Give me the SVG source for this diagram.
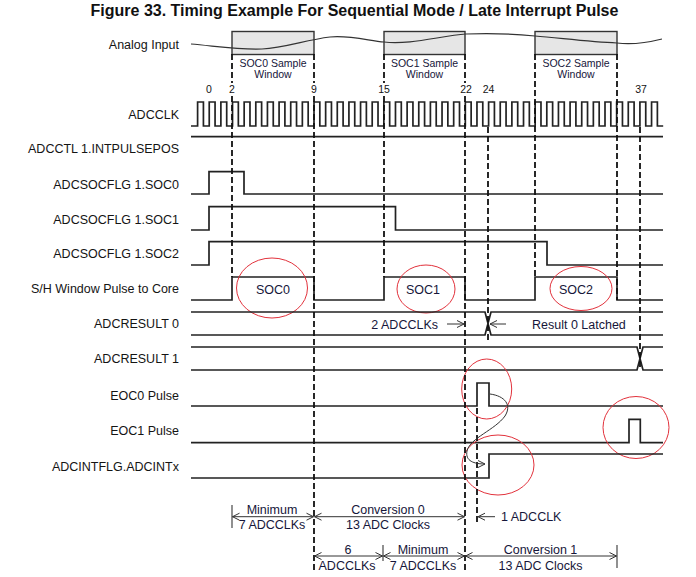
<svg xmlns="http://www.w3.org/2000/svg" width="696" height="577" viewBox="0 0 696 577">
<defs>
<style>
.lbl{font-family:"Liberation Sans",Arial,sans-serif;font-size:12.5px;fill:#141414;text-anchor:end}
.t{font-family:"Liberation Sans",Arial,sans-serif;font-size:12.5px;fill:#16163a;text-anchor:middle}
.ts{font-family:"Liberation Sans",Arial,sans-serif;font-size:10.5px;fill:#16163a;text-anchor:middle}
.num{font-family:"Liberation Sans",Arial,sans-serif;font-size:10.5px;fill:#141414;text-anchor:middle}
.sig{fill:none;stroke:#222;stroke-width:1.7}
.dash{fill:none;stroke:#111;stroke-width:1.8;stroke-dasharray:6 3}
.box{fill:#e6e6e6;stroke:#333;stroke-width:1.4}
.ring{fill:none;stroke:#e2323c;stroke-width:1}
.dim{fill:none;stroke:#333;stroke-width:1}
.dimA{fill:none;stroke:#333;stroke-width:1;marker-start:url(#ah);marker-end:url(#ah)}
.bar{fill:none;stroke:#555;stroke-width:1.3}
</style>
<marker id="ah" markerUnits="userSpaceOnUse" markerWidth="9" markerHeight="9" viewBox="0 0 9 9" refX="8" refY="4.5" orient="auto-start-reverse">
<path d="M1,1 L8,4.5 L1,8" fill="none" stroke="#333" stroke-width="1"/>
</marker>
</defs>

<text x="354.5" y="16" style="font-family:'Liberation Sans',Arial,sans-serif;font-size:16px;font-weight:bold;fill:#111;text-anchor:middle">Figure 33. Timing Example For Sequential Mode / Late Interrupt Pulse</text>

<g id="analog-input">
<text class="lbl" x="179" y="48.5">Analog Input</text>
<rect class="box" x="232" y="31.5" width="82" height="23"/>
<rect class="box" x="384" y="31.5" width="81" height="23"/>
<rect class="box" x="535" y="31.5" width="82" height="23"/>
<path d="M191,44 C215,46 240,50 262,49 C285,48 305,40 330,37 C350,35 370,41 384,42 C410,45 440,36 466,34 C490,33 515,34 535,36 C560,38 590,42 617,43 C632,45 650,42 662,39" fill="none" stroke="#333" stroke-width="1.2"/>
<text class="ts" x="273" y="66.7">SOC0 Sample</text>
<text class="ts" x="273" y="78">Window</text>
<text class="ts" x="424.5" y="66.7">SOC1 Sample</text>
<text class="ts" x="424.5" y="78">Window</text>
<text class="ts" x="576" y="66.7">SOC2 Sample</text>
<text class="ts" x="576" y="78">Window</text>
</g>

<g id="clock-numbers">
<text class="num" x="209" y="93">0</text>
<text class="num" x="232" y="93">2</text>
<text class="num" x="314" y="93">9</text>
<text class="num" x="384" y="93">15</text>
<text class="num" x="466" y="93">22</text>
<text class="num" x="488.5" y="93">24</text>
<text class="num" x="641" y="93">37</text>
</g>

<g id="adcclk">
<text class="lbl" x="179" y="118.8">ADCCLK</text>
<path class="sig" d="M191,126 H197.6 v-24h5.82v24h5.82 v-24h5.82v24h5.82 v-24h5.82v24h5.82 v-24h5.82v24h5.82 v-24h5.82v24h5.82 v-24h5.82v24h5.82 v-24h5.82v24h5.82 v-24h5.82v24h5.82 v-24h5.82v24h5.82 v-24h5.82v24h5.82 v-24h5.82v24h5.82 v-24h5.82v24h5.82 v-24h5.82v24h5.82 v-24h5.82v24h5.82 v-24h5.82v24h5.82 v-24h5.82v24h5.82 v-24h5.82v24h5.82 v-24h5.82v24h5.82 v-24h5.82v24h5.82 v-24h5.82v24h5.82 v-24h5.82v24h5.82 v-24h5.82v24h5.82 v-24h5.82v24h5.82 v-24h5.82v24h5.82 v-24h5.82v24h5.82 v-24h5.82v24h5.82 v-24h5.82v24h5.82 v-24h5.82v24h5.82 v-24h5.82v24h5.82 v-24h5.82v24h5.82 v-24h5.82v24h5.82 v-24h5.82v24h5.82 v-24h5.82v24h5.82 v-24h5.82v24h5.82 v-24h5.82v24h5.82 v-24h5.82v24h5.82 v-24h5.82v24h5.82 v-24h5.82v24h5.82 v-24h5.82v24h5.82 v-24h5.82v24h5.82"/>
</g>

<g id="intpulsepos">
<text class="lbl" x="179" y="152.8">ADCCTL 1.INTPULSEPOS</text>
<path class="sig" d="M191,136.7 H663"/>
</g>

<g id="socflg0">
<text class="lbl" x="179" y="188.5">ADCSOCFLG 1.SOC0</text>
<path class="sig" d="M191,194 H209 V171.7 H244 V194 H663"/>
</g>

<g id="socflg1">
<text class="lbl" x="179" y="223.5">ADCSOCFLG 1.SOC1</text>
<path class="sig" d="M191,230 H209 V206.7 H395.5 V230 H663"/>
</g>

<g id="socflg2">
<text class="lbl" x="179" y="257.8">ADCSOCFLG 1.SOC2</text>
<path class="sig" d="M191,265 H209 V241.7 H547 V265 H663"/>
</g>

<g id="sh-window">
<text class="lbl" x="179" y="292.8">S/H Window Pulse to Core</text>
<path class="sig" d="M191,300 H232 V277 H314 V300 H384 V277 H465 V300 H535 V277 H617 V300 H663"/>
<text class="t" x="273" y="294">SOC0</text>
<text class="t" x="423" y="294">SOC1</text>
<text class="t" x="576" y="294">SOC2</text>
<ellipse class="ring" cx="272" cy="288" rx="35.5" ry="30"/>
<ellipse class="ring" cx="426" cy="289" rx="29" ry="24"/>
<ellipse class="ring" cx="581" cy="288.5" rx="31" ry="22"/>
</g>

<g id="adcresult0">
<text class="lbl" x="179" y="327.8">ADCRESULT 0</text>
<path class="sig" d="M191,312 H485 L491,335 H663"/>
<path class="sig" d="M191,335 H485 L491,312 H663"/>
<text class="t" x="438" y="328.5" style="text-anchor:end">2 ADCCLKs</text>
<text class="t" x="532" y="328.5" style="text-anchor:start">Result 0 Latched</text>
</g>

<g id="adcresult1">
<text class="lbl" x="179" y="362.8">ADCRESULT 1</text>
<path class="sig" d="M191,347 H637 L643,370 H663"/>
<path class="sig" d="M191,370 H637 L643,347 H663"/>
</g>

<g id="eoc0">
<text class="lbl" x="179" y="399.5">EOC0 Pulse</text>
<path class="sig" d="M191,406 H477 V383 H489 V406 H663"/>
<ellipse class="ring" cx="486.7" cy="389" rx="25" ry="30"/>
</g>

<g id="eoc1">
<text class="lbl" x="179" y="435.2">EOC1 Pulse</text>
<path class="sig" d="M191,442.7 H629 V419.3 H640.3 V442.7 H663"/>
<ellipse class="ring" cx="636" cy="427.5" rx="33" ry="31"/>
</g>

<g id="adcintx">
<text class="lbl" x="179" y="471.2">ADCINTFLG.ADCINTx</text>
<path class="sig" d="M191,478 H489 V454 H663"/>
<ellipse class="ring" cx="498" cy="465" rx="36" ry="30"/>
</g>

<g id="connectors">
<path class="dash" d="M232,54 V83 M232,96 V277"/>
<path class="dash" d="M314,54 V83 M314,96 V571"/>
<path class="dash" d="M384,54 V83 M384,96 V277"/>
<path class="dash" d="M465,54 V83 M465,96 V571"/>
<path class="dash" d="M535,54 V277"/>
<path class="dash" d="M617,54 V300"/>
<path class="dash" d="M488,127 V342"/>
<path class="dash" d="M640,127 V370"/>
<path class="dash" d="M477,408 V523"/>

<path class="dim" d="M447,324 H464" marker-end="url(#ah)"/>
<path class="dim" d="M506,324 H490" marker-end="url(#ah)"/>

<path class="dim" d="M490,394 C505,396 512,405 505,416 C495,430 470,438 467,451 C465,461 474,464 485,464" marker-end="url(#ah)"/>

<path class="bar" d="M232,505 V528"/>
<path class="dimA" d="M232.5,516.7 H313.5"/>
<path class="dimA" d="M314.5,516.7 H464.5"/>
<path class="dim" d="M495,516.7 H478" marker-end="url(#ah)"/>

<path class="bar" d="M383,545 V561"/>
<path class="bar" d="M617,545 V568"/>
<path class="dimA" d="M314.5,556 H382.5"/>
<path class="dimA" d="M383.5,556 H464.5"/>
<path class="dimA" d="M465.5,556 H616.5"/>
</g>

<g id="annotations">
<text class="t" x="272" y="513.5">Minimum</text>
<text class="t" x="272" y="529">7 ADCCLKs</text>
<text class="t" x="388" y="513.5">Conversion 0</text>
<text class="t" x="388" y="529">13 ADC Clocks</text>
<text class="t" x="501" y="520.5" style="text-anchor:start">1 ADCCLK</text>
<text class="t" x="348" y="554">6</text>
<text class="t" x="347" y="570">ADCCLKs</text>
<text class="t" x="423" y="554">Minimum</text>
<text class="t" x="423" y="570">7 ADCCLKs</text>
<text class="t" x="540.5" y="554">Conversion 1</text>
<text class="t" x="540.5" y="570">13 ADC Clocks</text>
</g>
</svg>
